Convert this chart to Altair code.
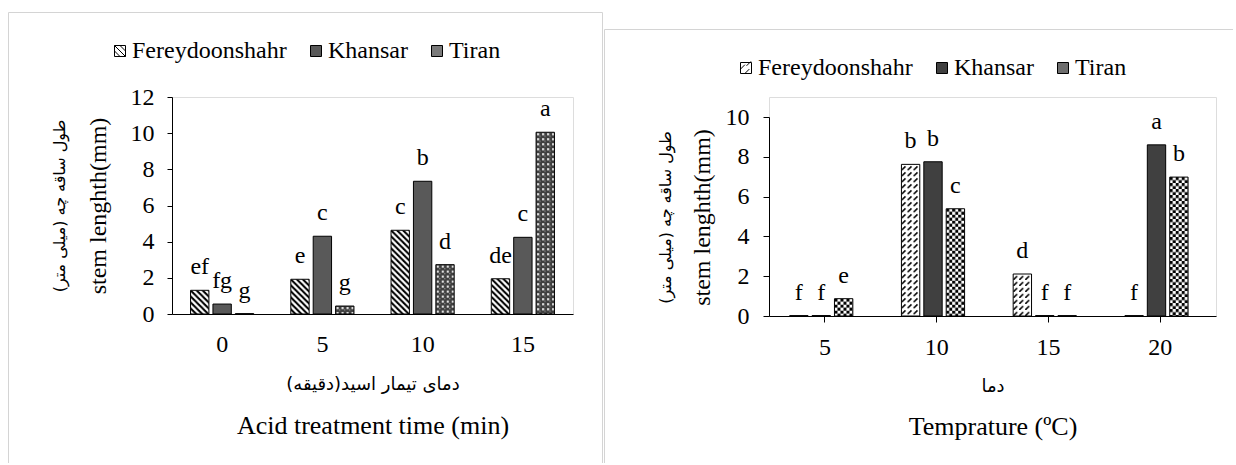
import base64
import altair as alt
import pandas as pd

# ---------------- data ----------------
series = ["Fereydoonshahr", "Khansar", "Tiran"]

acid_times = ["0", "5", "10", "15"]
acid_fer = [1.31, 1.92, 4.63, 1.95]
acid_kha = [0.55, 4.30, 7.34, 4.24]
acid_tir = [0.02, 0.44, 2.73, 10.05]
acid_fer_lbl = ["ef", "e", "c", "de"]
acid_kha_lbl = ["fg", "c", "b", "c"]
acid_tir_lbl = ["g", "g", "d", "a"]

temps = ["5", "10", "15", "20"]
temp_fer = [0.02, 7.62, 2.11, 0.02]
temp_kha = [0.02, 7.75, 0.02, 8.60]
temp_tir = [0.87, 5.39, 0.02, 6.98]
temp_fer_lbl = ["f", "b", "d", "f"]
temp_kha_lbl = ["f", "b", "f", "a"]
temp_tir_lbl = ["e", "c", "f", "b"]

RLM = "\u200f"
fa_stem = RLM + "طول ساقه چه (میلی متر)" + RLM
fa_acid = RLM + "دمای تیمار اسید(دقیقه)" + RLM
fa_temp = RLM + "دما" + RLM
en_stem = "stem lenghth(mm)"
en_acid = "Acid treatment time (min)"
en_temp = "Temprature (ºC)"

# ---------------- styles ----------------
SERIF = "Liberation Serif"
FA_FONT = "DejaVu Sans"
FRAME = "#d4d4d4"


def pat_uri(w, h, body, bg="white"):
    svg = ("<svg xmlns='http://www.w3.org/2000/svg' width='100%' height='100%'>"
           f"<defs><pattern id='p' width='{w}' height='{h}' patternUnits='userSpaceOnUse'>"
           f"<rect width='{w}' height='{h}' fill='{bg}'/>{body}</pattern></defs>"
           "<rect width='100%' height='100%' fill='url(#p)'/></svg>")
    return "data:image/svg+xml;base64," + base64.b64encode(svg.encode("utf-8")).decode()


left_urls = {
    "Fereydoonshahr": pat_uri(6, 6, "<path d='M-1,-1L7,7M-1,5L1,7M5,-1L7,1' stroke='black' stroke-width='2'/>"),
    "Tiran": pat_uri(5, 5, "<rect x='1' y='1' width='2' height='2' fill='white'/>"
                           "<rect x='3.5' y='3.5' width='1' height='1' fill='#b0b0b0'/>", bg="#404040"),
}
right_urls = {
    "Fereydoonshahr": pat_uri(6, 6, "<path d='M0,6L4,2' stroke='black' stroke-width='1.6'/>"),
    "Tiran": pat_uri(6, 6, "<rect width='3' height='3' fill='black'/><rect x='3' y='3' width='3' height='3' fill='black'/>"),
}

SQ = "M-1,-1H1V1H-1Z"
left_shapes = [SQ + "M-1,0L0,1M-1,-1L1,1M0,-1L1,0", SQ, SQ]
left_fills = ["white", "#595959", "#7a7a7a"]
right_shapes = [SQ + "M-1,0.2L-0.2,-0.6M-0.2,1L0.6,0.2M0.1,-0.4L0.9,-1.2", SQ, SQ]
right_fills = ["white", "#404040", "#6e6e6e"]
symbol_strokes = ["black", "black", "black"]

one = pd.DataFrame({"k": [0]})


def frame_rule(x, x2, y, y2):
    return alt.Chart(one).mark_rule(color=FRAME, strokeWidth=1).encode(
        x=alt.value(x), x2=alt.value(x2), y=alt.value(y), y2=alt.value(y2))


def build_panel(cats, fer, kha, tir, lf, lk, lt, cfg):
    rows = []
    for s, vals, lbls in ((series[0], fer, lf), (series[1], kha, lk), (series[2], tir, lt)):
        for c, v, l in zip(cats, vals, lbls):
            rows.append({"cat": c, "series": s, "value": v, "label": l,
                         "url": cfg["urls"].get(s, "")})
    df = pd.DataFrame(rows)
    base = alt.Chart(df)

    xs = alt.Scale(domain=cats, paddingInner=0.37, paddingOuter=0.185)
    xo = alt.Scale(domain=series, paddingInner=0.18, paddingOuter=0)
    if cfg["yrange"] is not None:
        ys = alt.Scale(domain=[0, cfg["ymax"]], nice=False, range=cfg["yrange"])
    else:
        ys = alt.Scale(domain=[0, cfg["ymax"]], nice=False)

    x_axis = alt.Axis(
        title=cfg["en_x"], titleFont=SERIF, titleFontSize=26, titleFontWeight="normal",
        titleColor="black", titleY=cfg["en_x_y"], titleBaseline="middle",
        labelFont=SERIF, labelFontSize=24, labelColor="black", labelAngle=0,
        labelPadding=cfg["x_lpad"], ticks=cfg["x_ticks"], tickSize=cfg["x_tick"],
        tickColor="black", domainColor="black", domainWidth=1, grid=False)
    y_axis_kw = dict(
        title=en_stem, titleFont=SERIF, titleFontSize=24, titleFontWeight="normal",
        titleColor="black", titleX=cfg["en_y_x"], titleBaseline="middle",
        labelFont=SERIF, labelFontSize=24, labelColor="black",
        labelPadding=cfg["y_lpad"], tickSize=cfg["y_tick"], tickColor="black",
        domainColor="black", domainWidth=1, grid=False,
        values=list(range(0, cfg["ymax"] + 1, 2)))
    if cfg["title_y"] is not None:
        y_axis_kw["titleY"] = cfg["title_y"]
    y_axis = alt.Axis(**y_axis_kw)

    x_main = alt.X("cat:N", sort=cats, scale=xs, axis=x_axis)
    xoff = alt.XOffset("series:N", sort=series, scale=xo)
    y_main = alt.Y("value:Q", scale=ys, stack=None, axis=y_axis)

    images = base.transform_filter("datum.series !== 'Khansar'").mark_image(aspect=False).encode(
        x=x_main, xOffset=xoff, y=y_main, y2=alt.datum(0), url="url:N")
    bars = base.mark_bar(stroke="black", strokeWidth=1).encode(
        x=x_main, xOffset=xoff, y=y_main,
        fill=alt.condition("datum.series === 'Khansar'", alt.value(cfg["kh"]),
                           alt.value("transparent")))
    text = base.mark_text(baseline="alphabetic", dy=-16, font=SERIF, fontSize=24,
                          color="black").encode(
        x=x_main, xOffset=xoff, y=y_main, text="label:N")
    inner = alt.layer(images, bars, text)

    legend = alt.Legend(
        orient="none", legendX=cfg["lx"], legendY=cfg["ly"], direction="horizontal",
        title=None, labelFont=SERIF, labelFontSize=24, labelColor="black",
        symbolSize=121, symbolStrokeWidth=1, symbolOpacity=1,
        labelOffset=0, columnPadding=17, padding=0)

    fa_y_kw = dict(
        title=fa_stem, orient="left", labels=False, ticks=False, domain=False, grid=False,
        titleFont=FA_FONT, titleFontSize=16, titleFontWeight="normal", titleColor="black",
        titleX=cfg["fa_y_x"], titleBaseline="middle")
    if cfg["title_y"] is not None:
        fa_y_kw["titleY"] = cfg["title_y"]

    leg = base.mark_point(filled=True, opacity=0, strokeWidth=1).encode(
        x=alt.X("cat:N", sort=cats, scale=xs,
                axis=alt.Axis(title=cfg["fa_x"], orient="bottom", labels=False, ticks=False,
                              domain=False, grid=False, titleFont=FA_FONT, titleFontSize=18,
                              titleFontWeight="normal", titleColor="black",
                              titleY=cfg["fa_x_y"], titleBaseline="middle")),
        y=alt.Y("value:Q", scale=alt.Scale(domain=[0, cfg["ymax"]], nice=False),
                axis=alt.Axis(**fa_y_kw)),
        fill=alt.Fill("series:N", sort=series,
                      scale=alt.Scale(domain=series, range=cfg["fills"]), legend=legend),
        shape=alt.Shape("series:N", sort=series,
                        scale=alt.Scale(domain=series, range=cfg["shapes"]), legend=legend),
        stroke=alt.Stroke("series:N", sort=series,
                          scale=alt.Scale(domain=series, range=symbol_strokes), legend=legend),
    )

    frames = [frame_rule(*f) for f in cfg["frames"]]
    return alt.layer(*frames, inner, leg).resolve_scale(
        x="independent", y="independent").properties(width=cfg["w"], height=cfg["h"])


left_cfg = dict(
    urls=left_urls, ymax=12, yrange=None, kh="#595959", w=401, h=217,
    en_x=en_acid, en_x_y=111, fa_x=fa_acid, fa_x_y=70,
    x_lpad=18, x_ticks=False, x_tick=0, y_lpad=13, y_tick=5,
    en_y_x=-74, fa_y_x=-113, title_y=None,
    lx=-64, ly=-58, fills=left_fills, shapes=left_shapes,
    frames=[(-163.5, 430.5, -84.5, -84.5), (-163.5, -163.5, -84.5, 366),
            (430.5, 430.5, -84.5, 366)],
)
right_cfg = dict(
    urls=right_urls, ymax=10, yrange=[219, 20], kh="#404040", w=447, h=219,
    en_x=en_temp, en_x_y=110, fa_x=fa_temp, fa_x_y=70,
    x_lpad=13, x_ticks=True, x_tick=6, y_lpad=14, y_tick=6,
    en_y_x=-67, fa_y_x=-104, title_y=120,
    lx=-35, ly=-41, fills=right_fills, shapes=right_shapes,
    frames=[(-164.5, 464, -67.5, -67.5), (-164.5, -164.5, -67.5, 366)],
)

left = build_panel(acid_times, acid_fer, acid_kha, acid_tir,
                   acid_fer_lbl, acid_kha_lbl, acid_tir_lbl, left_cfg)
right = build_panel(temps, temp_fer, temp_kha, temp_tir,
                    temp_fer_lbl, temp_kha_lbl, temp_tir_lbl, right_cfg)

chart = alt.HConcatChart(hconcat=[left, right], spacing=196, bounds="flush").resolve_scale(
    fill="independent", shape="independent", stroke="independent"
).properties(
    padding={"left": 7, "top": 11, "right": 0, "bottom": 0},
    background="white",
).configure_view(strokeWidth=0).configure(font=SERIF)

chart.save("out.html", embed_options={"renderer": "svg", "actions": False})
